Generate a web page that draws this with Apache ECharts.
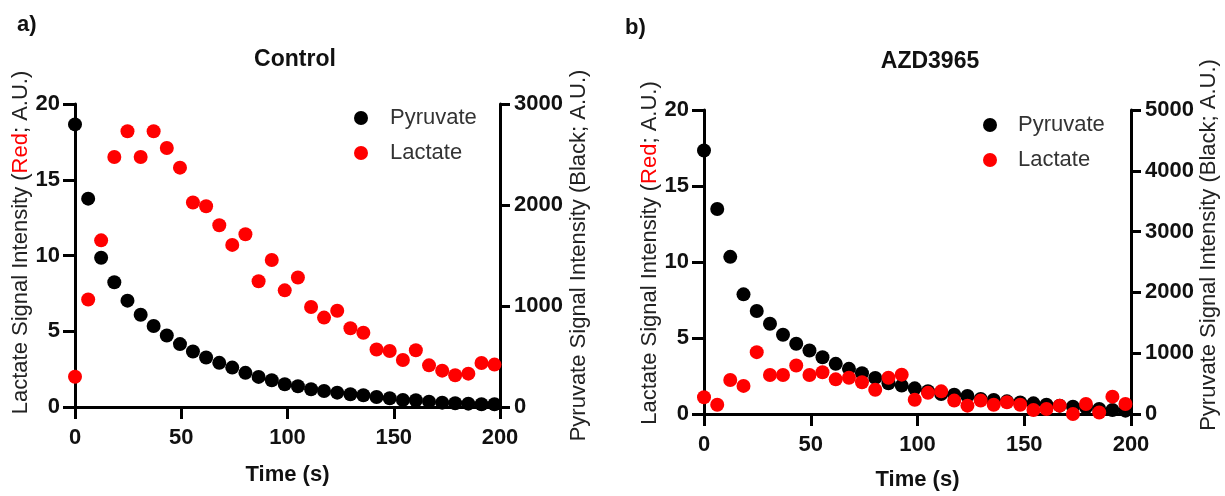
<!DOCTYPE html>
<html>
<head>
<meta charset="utf-8">
<script src="https://cdn.jsdelivr.net/npm/echarts@6/dist/echarts.min.js"></script>
<style>
  html, body { margin: 0; padding: 0; background: #fff; }
  #chart { width: 1225px; height: 496px; }
</style>
</head>
<body>
<div id="chart"></div>
<script>
// Acquisition times (s), shared by both panels
const times = [0, 6.2, 12.3, 18.5, 24.7, 30.9, 37.0, 43.2, 49.4, 55.5, 61.7, 67.9, 74.0,
  80.2, 86.4, 92.6, 98.7, 104.9, 111.1, 117.2, 123.4, 129.6, 135.7, 141.9, 148.1,
  154.3, 160.4, 166.6, 172.8, 178.9, 185.1, 191.3, 197.4];

// Panel a) Control
const controlLactate = [2.0, 7.1, 11.0, 16.5, 18.2, 16.5, 18.2, 17.1, 15.8, 13.5, 13.25,
  12.0, 10.7, 11.4, 8.3, 9.7, 7.7, 8.55, 6.6, 5.9, 6.35, 5.2, 4.9, 3.8, 3.7, 3.1,
  3.75, 2.75, 2.4, 2.1, 2.2, 2.9, 2.8];
const controlPyruvate = [2798, 2063, 1477, 1235, 1053, 914, 802, 708, 623, 549, 490, 437,
  390, 338, 298, 265, 225, 205, 176, 159, 142, 126, 116, 99, 86, 70, 67, 53, 43, 37,
  33, 27, 27];

// Panel b) AZD3965
const azdLactate = [1.1, 0.61, 2.24, 1.85, 4.07, 2.57, 2.57, 3.19, 2.57, 2.75, 2.28, 2.38,
  2.09, 1.6, 2.38, 2.59, 0.94, 1.39, 1.49, 0.88, 0.55, 0.88, 0.61, 0.77, 0.61, 0.26,
  0.33, 0.55, 0.0, 0.66, 0.1, 1.14, 0.66];
const azdPyruvate = [4333, 3372, 2585, 1968, 1693, 1485, 1303, 1155, 1045, 934, 825, 743,
  670, 594, 505, 467, 422, 373, 330, 318, 297, 247, 231, 208, 191, 175, 153, 137, 121,
  110, 83, 66, 55];

const panelTitles = ['Control', 'AZD3965'];
const panelTags = ['a)', 'b)'];
const seriesNames = ['Pyruvate', 'Lactate'];
const leftAxisName = 'Lactate Signal Intensity ({r|Red}; A.U.)';
const rightAxisName = 'Pyruvate Signal Intensity (Black; A.U.)';
const xAxisName = 'Time (s)';

const FONT = '"Liberation Sans", Arial, Helvetica, sans-serif';
const INK = '#111';

function pairs(xs, ys) { return xs.map((x, i) => [x, ys[i]]); }

const axisLine = { show: true, lineStyle: { color: '#000', width: 3 } };
const tickLabel = { color: INK, fontFamily: FONT, fontWeight: 'bold', fontSize: 22 };
// plain integers, no thousands separator
const plain = v => String(v);

function xAxisFor(grid, gap) {
  return {
    type: 'value', gridIndex: grid, min: 0, max: 200, interval: 50,
    axisLine: axisLine,
    axisTick: { show: true, length: 12, lineStyle: { color: '#000', width: 3 } },
    axisLabel: Object.assign({ margin: 20, formatter: plain }, tickLabel),
    splitLine: { show: false },
    name: xAxisName, nameLocation: 'middle', nameGap: gap,
    nameTextStyle: { color: INK, fontFamily: FONT, fontWeight: 'bold', fontSize: 22 }
  };
}

function leftY(grid, gap, shift) {
  return {
    type: 'value', gridIndex: grid, position: 'left', min: 0, max: 20, interval: 5,
    axisLine: axisLine,
    axisTick: { show: true, length: 12, lineStyle: { color: '#000', width: 3 } },
    axisLabel: Object.assign({ margin: 15, formatter: plain }, tickLabel),
    splitLine: { show: false },
    name: leftAxisName, nameLocation: 'middle', nameRotate: 90, nameGap: gap,
    nameTextStyle: {
      color: '#222', fontFamily: FONT, fontSize: 22,
      padding: [0, 0, 0, shift],
      rich: { r: { color: '#ff0000', fontFamily: FONT, fontSize: 22 } }
    }
  };
}

function rightY(grid, max, gap, shift) {
  return {
    type: 'value', gridIndex: grid, position: 'right', min: 0, max: max, interval: 1000,
    axisLine: axisLine,
    axisTick: { show: true, length: 10, lineStyle: { color: '#000', width: 3 } },
    axisLabel: Object.assign({ margin: 14, formatter: plain }, tickLabel),
    splitLine: { show: false },
    name: rightAxisName, nameLocation: 'middle', nameRotate: 90, nameGap: gap,
    nameTextStyle: {
      color: '#222', fontFamily: FONT, fontSize: 22,
      padding: [0, 0, 0, shift]
    }
  };
}

function scatter(name, xi, yi, data, color) {
  return {
    type: 'scatter', name: name, xAxisIndex: xi, yAxisIndex: yi,
    data: data, symbol: 'circle', symbolSize: 14, clip: false,
    itemStyle: { color: color, opacity: 1 },
    emphasis: { disabled: true }
  };
}

const chart = echarts.init(document.getElementById('chart'), null, { renderer: 'canvas' });

chart.setOption({
  backgroundColor: '#fff',
  animation: false,
  title: [
    { text: panelTitles[0], left: 290, top: 43, textAlign: 'center',
      textStyle: { color: INK, fontFamily: FONT, fontWeight: 'bold', fontSize: 23 } },
    { text: panelTitles[1], left: 925, top: 45, textAlign: 'center',
      textStyle: { color: INK, fontFamily: FONT, fontWeight: 'bold', fontSize: 23 } },
    { text: panelTags[0], left: 12, top: 9,
      textStyle: { color: INK, fontFamily: FONT, fontWeight: 'bold', fontSize: 22 } },
    { text: panelTags[1], left: 620, top: 12,
      textStyle: { color: INK, fontFamily: FONT, fontWeight: 'bold', fontSize: 22 } }
  ],
  legend: [
    { data: seriesNames, left: 349, top: 102, orient: 'vertical', itemGap: 13,
      itemWidth: 14, itemHeight: 14, icon: 'circle',
      textStyle: { color: '#333', fontFamily: FONT, fontSize: 22, lineHeight: 22,
        padding: [0, 0, 0, 17] } },
    { data: seriesNames, left: 978, top: 109, orient: 'vertical', itemGap: 13,
      itemWidth: 14, itemHeight: 14, icon: 'circle',
      textStyle: { color: '#333', fontFamily: FONT, fontSize: 22, lineHeight: 22,
        padding: [0, 0, 0, 16] } }
  ],
  grid: [
    { left: 75, top: 104, width: 425, height: 303 },
    { left: 704, top: 110, width: 427, height: 304 }
  ],
  xAxis: [xAxisFor(0, 57), xAxisFor(1, 55)],
  yAxis: [
    leftY(0, 38, 26),
    rightY(0, 3000, 68, 0),
    leftY(1, 40, 18),
    rightY(1, 5000, 66, 34)
  ],
  series: [
    scatter(seriesNames[0], 0, 1, pairs(times, controlPyruvate), '#000'),
    scatter(seriesNames[1], 0, 0, pairs(times, controlLactate), '#ff0000'),
    scatter(seriesNames[0], 1, 3, pairs(times, azdPyruvate), '#000'),
    scatter(seriesNames[1], 1, 2, pairs(times, azdLactate), '#ff0000')
  ]
});
</script>
</body>
</html>
